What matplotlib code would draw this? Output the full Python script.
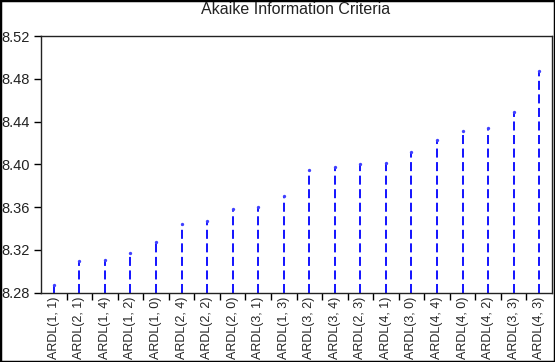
import matplotlib.pyplot as plt
from matplotlib.patches import Rectangle

# model labels, ordered by AIC
models = ["ARDL(1, 1)", "ARDL(2, 1)", "ARDL(1, 4)", "ARDL(1, 2)", "ARDL(1, 0)",
          "ARDL(2, 4)", "ARDL(2, 2)", "ARDL(2, 0)", "ARDL(3, 1)", "ARDL(1, 3)",
          "ARDL(3, 2)", "ARDL(3, 4)", "ARDL(2, 3)", "ARDL(4, 1)", "ARDL(3, 0)",
          "ARDL(4, 4)", "ARDL(4, 0)", "ARDL(4, 2)", "ARDL(3, 3)", "ARDL(4, 3)"]
aic = [8.287, 8.3095, 8.3104, 8.317, 8.327,
       8.344, 8.347, 8.358, 8.360, 8.370,
       8.3947, 8.397, 8.400, 8.401, 8.411,
       8.423, 8.431, 8.434, 8.449, 8.487]
yticks = [8.28, 8.32, 8.36, 8.40, 8.44, 8.48, 8.52]

plt.rcParams['font.family'] = ['Liberation Sans', 'DejaVu Sans']

fig = plt.figure(figsize=(5.55, 3.62), dpi=100)
ax = fig.add_axes([41 / 555, 1 - 292.5 / 362, 511 / 555, 256.5 / 362])

x = list(range(len(models)))
bottom = yticks[0]
ax.vlines(x, bottom, aic, colors='#0000ff', linestyles=(0, (5, 2.5)), linewidth=1.3)
ax.plot(x, aic, 'o', color='#4040ff', markersize=2.4, markeredgewidth=0)

ax.set_xlim(-0.5, len(models) - 0.5)
ax.set_ylim(yticks[0], yticks[-1])
ax.set_yticks(yticks)
ax.set_yticklabels([f"{v:.2f}" for v in yticks], fontsize=10.5, color='#222222')

ax.set_xticks([i + 0.5 for i in x[:-1]])
ax.set_xticklabels([])
ax.set_xticks(x, minor=True)
ax.set_xticklabels(models, minor=True, rotation=90, fontsize=9, color='#222222')
ax.tick_params(axis='x', which='major', direction='out', length=5, width=1)
ax.tick_params(axis='x', which='minor', length=0, pad=3)
ax.tick_params(axis='y', direction='out', length=5, width=1, pad=3)

for s in ax.spines.values():
    s.set_linewidth(1.0)
    s.set_color('#222222')

fig.text(296 / 555, 1 - 10 / 362, "Akaike Information Criteria",
         ha='center', va='center', fontsize=11.5, color='#222222')

fig.add_artist(Rectangle((0, 0), 1, 1, transform=fig.transFigure, fill=False,
                         edgecolor='black', linewidth=2.5))

fig.savefig("out.png", dpi=100)
